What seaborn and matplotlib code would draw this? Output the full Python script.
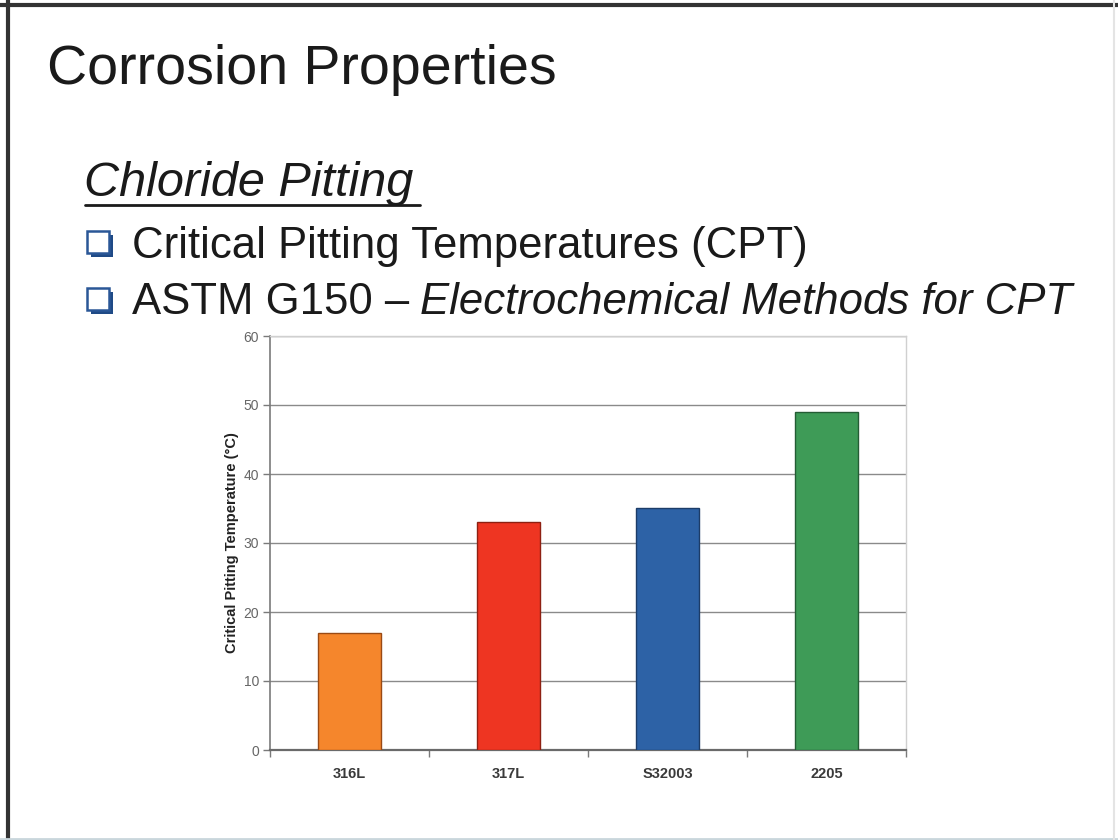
import matplotlib
matplotlib.use("Agg")
import matplotlib.pyplot as plt
from matplotlib.patches import Rectangle
from matplotlib.lines import Line2D
from matplotlib.ticker import FixedLocator
import seaborn as sns
import pandas as pd

# Critical pitting temperature per alloy (ASTM G150)
alloys = ["316L", "317L", "S32003", "2205"]
cpt_values = [17, 33, 35, 49]
bar_colors = ["#F5862C", "#EE3522", "#2D62A6", "#3E9B57"]
edge_colors = ["#9a4a14", "#8e2012", "#1c3c68", "#245c34"]
y_ticks = [0, 10, 20, 30, 40, 50, 60]

sns.set_theme(style="white")
plt.rcParams["font.family"] = ["Liberation Sans", "DejaVu Sans"]

W, H = 1118, 840
fig = plt.figure(figsize=(W / 100, H / 100), dpi=100)
fig.patch.set_facecolor("white")


def fx(px):
    return px / W


def fy(px):
    return 1 - px / H


# slide frame
fig.add_artist(Line2D([0.0, 1.0], [fy(4.5), fy(4.5)], color="#333333", lw=3.0, transform=fig.transFigure))
fig.add_artist(Line2D([fx(8), fx(8)], [0.0, 1.0], color="#333333", lw=3.0, transform=fig.transFigure))
fig.add_artist(Line2D([0.0, 1.0], [fy(838.5), fy(838.5)], color="#c9d6dc", lw=2.0, transform=fig.transFigure))
fig.add_artist(Line2D([fx(1114), fx(1114)], [0.0, 1.0], color="#e4e4e4", lw=1.5, transform=fig.transFigure))

# slide text
fig.text(fx(47), fy(70), "Corrosion Properties", fontsize=40,
         color="#1a1a1a", va="center", ha="left")
fig.text(fx(84), fy(183), "Chloride Pitting", fontsize=35,
         style="italic", color="#1a1a1a", va="center", ha="left")
fig.add_artist(Line2D([fx(85), fx(420)], [fy(205), fy(205)],
                      color="#1a1a1a", lw=2.0, transform=fig.transFigure))


def bullet(y_px):
    x0, size = 87, 22
    sh = Rectangle((fx(x0 + 3.5), fy(y_px + size / 2 + 3.5)), size / W, size / H,
                   transform=fig.transFigure, facecolor="#1f4a86", edgecolor="none")
    box = Rectangle((fx(x0), fy(y_px + size / 2)), size / W, size / H,
                    transform=fig.transFigure, facecolor="white", edgecolor="#2a5797", lw=1.8)
    fig.add_artist(sh)
    fig.add_artist(box)


bullet(242)
bullet(299)
fig.text(fx(132), fy(246), "Critical Pitting Temperatures (CPT)", fontsize=31.5,
         color="#1a1a1a", va="center", ha="left")
part1 = fig.text(fx(132), fy(303), "ASTM G150 \u2013", fontsize=31.5,
                 color="#1a1a1a", va="center", ha="left")
renderer = fig.canvas.get_renderer()
x_end = part1.get_window_extent(renderer).x1
fig.text((x_end + 11) / W, fy(303), "Electrochemical Methods for CPT", fontsize=31.5,
         style="italic", color="#1a1a1a", va="center", ha="left")

# chart
ax = fig.add_axes([fx(270), fy(750), 636 / W, 414 / H])
df = pd.DataFrame({"alloy": alloys, "cpt": cpt_values})
sns.barplot(data=df, x="alloy", y="cpt", hue="alloy", order=alloys, hue_order=alloys,
            palette=bar_colors, width=0.4, saturation=1, linewidth=1.0,
            legend=False, ax=ax, zorder=3)
for p, ec in zip(ax.patches, edge_colors):
    p.set_edgecolor(ec)

ax.set_xlim(-0.5, 3.5)
ax.set_ylim(0, 60)
ax.yaxis.set_major_locator(FixedLocator(y_ticks))
ax.grid(axis="y", color="#8a8a8a", lw=1.0, zorder=0)
ax.set_axisbelow(True)

for side in ["top", "right"]:
    ax.spines[side].set_visible(True)
    ax.spines[side].set_color("#d0d0d0")
    ax.spines[side].set_linewidth(1.0)
ax.spines["left"].set_color("#7a7a7a")
ax.spines["bottom"].set_color("#6a6a6a")
ax.spines["left"].set_linewidth(1.2)
ax.spines["bottom"].set_linewidth(1.6)

ax.tick_params(axis="y", which="major", direction="out", length=5, width=1,
               color="#7a7a7a", labelsize=10, labelcolor="#666666", left=True, pad=3)
ax.set_yticklabels([str(v) for v in y_ticks])

# category labels without ticks; ticks sit on category boundaries
ax.tick_params(axis="x", which="major", length=0, labelsize=10.5, labelcolor="#3a3a3a", pad=12)
for lbl in ax.get_xticklabels():
    lbl.set_fontweight("bold")
ax.xaxis.set_minor_locator(FixedLocator([-0.5, 0.5, 1.5, 2.5, 3.5]))
ax.tick_params(axis="x", which="minor", direction="out", length=5, width=1,
               color="#7a7a7a", bottom=True)

ax.set_xlabel("")
ax.set_ylabel("Critical Pitting Temperature (\u00b0C)", fontsize=10.5, fontweight="bold",
              color="#222222", labelpad=3)

fig.savefig("out.png", dpi=100, facecolor="white")
